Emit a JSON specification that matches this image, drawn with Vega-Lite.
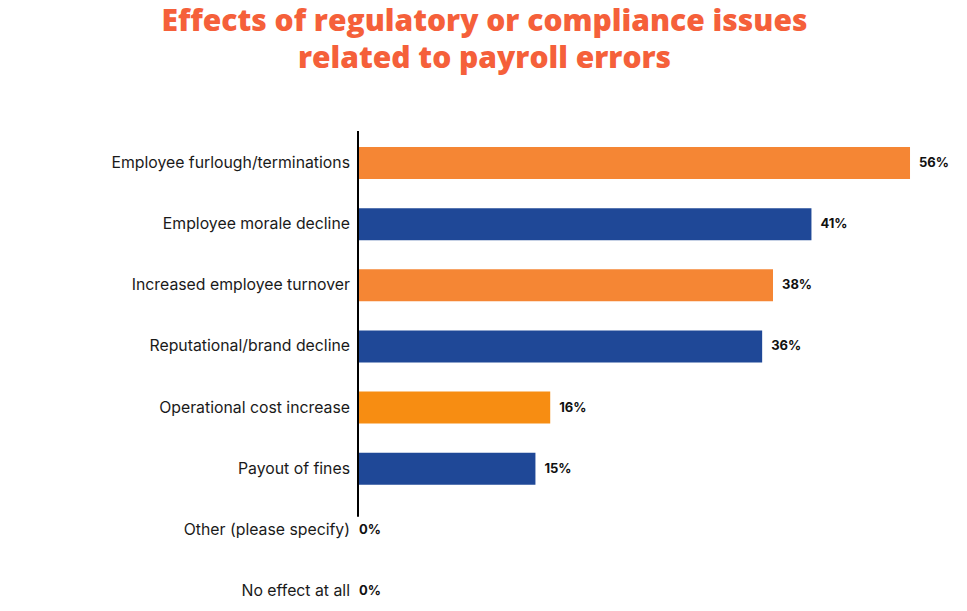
{
  "$schema": "https://vega.github.io/schema/vega-lite/v6.json",
  "width": 609,
  "height": 460,
  "autosize": "none",
  "padding": {"left": 358, "top": 147, "right": 0, "bottom": 0},
  "background": "white",
  "title": {
    "text": ["Effects of regulatory or compliance issues", "related to payroll errors"],
    "font": "Open Sans",
    "fontSize": 30,
    "fontWeight": 800,
    "color": "#F5603A",
    "anchor": "middle",
    "frame": "group",
    "dx": -178,
    "offset": 56,
    "lineHeight": 37
  },
  "data": {
    "values": [
      {"category": "Employee furlough/terminations", "value": 56, "label": "56%"},
      {"category": "Employee morale decline", "value": 46.0, "label": "41%"},
      {"category": "Increased employee turnover", "value": 42.1, "label": "38%"},
      {"category": "Reputational/brand decline", "value": 41.0, "label": "36%"},
      {"category": "Operational cost increase", "value": 19.5, "label": "16%"},
      {"category": "Payout of fines", "value": 18.0, "label": "15%"},
      {"category": "Other (please specify)", "value": 0, "label": "0%"},
      {"category": "No effect at all", "value": 0, "label": "0%"}
    ]
  },
  "layer": [
    {
      "mark": {"type": "bar"},
      "encoding": {
        "y": {"field": "category", "type": "nominal", "sort": null, "scale": {"paddingInner": 0.4766, "paddingOuter": 0}, "axis": null},
        "x": {"field": "value", "type": "quantitative", "scale": {"domain": [0, 61.78], "nice": false, "zero": true}, "axis": null},
        "color": {
          "field": "category",
          "type": "nominal",
          "sort": null,
          "scale": {
            "domain": ["Employee furlough/terminations", "Employee morale decline", "Increased employee turnover", "Reputational/brand decline", "Operational cost increase", "Payout of fines", "Other (please specify)", "No effect at all"],
            "range": ["#F58634", "#1F4897", "#F58634", "#1F4897", "#F78D12", "#1F4897", "#F58634", "#1F4897"]
          },
          "legend": null
        }
      }
    },
    {
      "transform": [{"filter": "datum.value > 0"}],
      "mark": {"type": "text", "align": "left", "baseline": "middle", "dx": 9, "font": "Inter", "fontSize": 13, "fontWeight": 700, "color": "#111111"},
      "encoding": {
        "y": {"field": "category", "type": "nominal", "sort": null},
        "x": {"field": "value", "type": "quantitative"},
        "text": {"field": "label"}
      }
    },
    {
      "transform": [{"filter": "datum.value == 0"}],
      "mark": {"type": "text", "align": "left", "baseline": "middle", "dx": 1, "font": "Inter", "fontSize": 13, "fontWeight": 700, "color": "#111111"},
      "encoding": {
        "y": {"field": "category", "type": "nominal", "sort": null},
        "x": {"field": "value", "type": "quantitative"},
        "text": {"field": "label"}
      }
    },
    {
      "mark": {"type": "text", "align": "right", "baseline": "middle", "dx": -8, "font": "Inter", "fontSize": 15.8, "fontWeight": 400, "color": "#1a1a1a"},
      "encoding": {
        "y": {"field": "category", "type": "nominal", "sort": null},
        "x": {"datum": 0, "type": "quantitative"},
        "text": {"field": "category"}
      }
    },
    {
      "data": {"values": [{"axis": "line"}]},
      "mark": {"type": "rule", "color": "#000000", "strokeWidth": 2},
      "encoding": {
        "x": {"datum": 0, "type": "quantitative"},
        "y": {"datum": "Employee furlough/terminations", "type": "nominal", "bandPosition": -0.5},
        "y2": {"datum": "Payout of fines", "bandPosition": 2}
      }
    }
  ],
  "config": {"view": {"stroke": null}}
}
